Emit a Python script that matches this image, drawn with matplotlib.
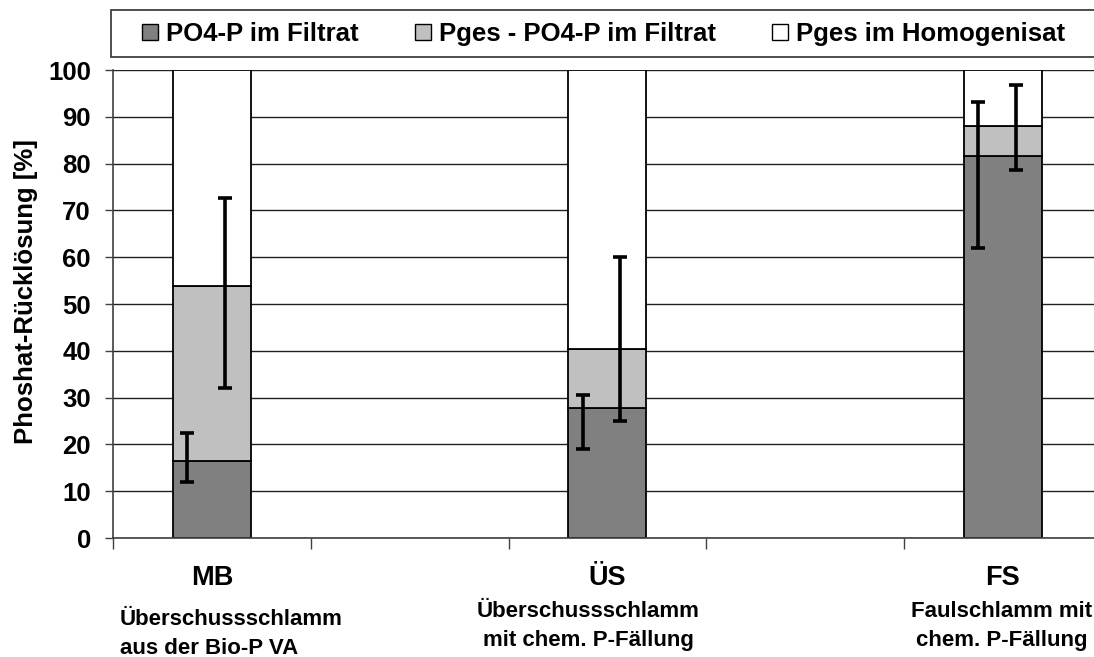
import matplotlib
matplotlib.use("Agg")
import matplotlib.pyplot as plt
from matplotlib.patches import Patch, Rectangle

plt.rcParams['font.family'] = ['Liberation Sans', 'DejaVu Sans']
plt.rcParams['font.weight'] = 'bold'

# Sample groups (bars sit in slots 1, 3 and 5 of five category slots)
groups = ["MB", "ÜS", "FS"]
group_slots = [0, 2, 4]
descriptions = ["Überschussschlamm\naus der Bio-P VA",
                "Überschussschlamm\nmit chem. P-Fällung",
                "Faulschlamm mit\nchem. P-Fällung"]

# Phosphate re-dissolution in %
po4_filtrat = [16.5, 27.8, 81.7]       # PO4-P im Filtrat
pges_filtrat = [53.8, 40.4, 88.0]      # Pges im Filtrat (cumulative)
pges_homogenisat = [100, 100, 100]     # Pges im Homogenisat

# Error ranges (low, high)
po4_err_low = [12.0, 19.0, 62.0]
po4_err_high = [22.4, 30.6, 93.2]
pges_err_low = [32.0, 25.0, 78.6]
pges_err_high = [72.6, 60.0, 96.8]

W, H = 1094, 657
fig = plt.figure(figsize=(W / 100, H / 100), dpi=100)


def px(x, y):
    return x / W, 1 - y / H


ax = fig.add_axes([113 / W, 119 / H, 988.75 / W, 468 / H])

x = [s + 0.5 for s in group_slots]
bw = 0.394
seg2 = [b - a for a, b in zip(po4_filtrat, pges_filtrat)]
seg3 = [c - b for b, c in zip(pges_filtrat, pges_homogenisat)]

ax.bar(x, po4_filtrat, bw, color="#808080", edgecolor="black", linewidth=1.3, zorder=2)
ax.bar(x, seg2, bw, bottom=po4_filtrat, color="#c0c0c0", edgecolor="black", linewidth=1.3, zorder=2)
ax.bar(x, seg3, bw, bottom=pges_filtrat, color="white", edgecolor="black", linewidth=1.3, zorder=2)

x1 = [v - 0.125 for v in x]
x2 = [v + 0.065 for v in x]
yerr1 = [[c - l for c, l in zip(po4_filtrat, po4_err_low)],
         [h - c for c, h in zip(po4_filtrat, po4_err_high)]]
yerr2 = [[c - l for c, l in zip(pges_filtrat, pges_err_low)],
         [h - c for c, h in zip(pges_filtrat, pges_err_high)]]
ax.errorbar(x1, po4_filtrat, yerr=yerr1, fmt="none", ecolor="black",
            elinewidth=2.6, capsize=5.2, capthick=2.6, zorder=3)
ax.errorbar(x2, pges_filtrat, yerr=yerr2, fmt="none", ecolor="black",
            elinewidth=2.6, capsize=5.2, capthick=2.6, zorder=3)

ax.set_xlim(0, 5)
ax.set_ylim(0, 100)
ax.set_yticks(range(0, 101, 10))
ax.set_xticks(range(0, 6))
ax.set_xticklabels([])
ax.tick_params(axis="y", labelsize=18.5, length=6, width=1, color="#404040", pad=10)
ax.tick_params(axis="x", length=8, width=1, color="#404040")
ax.yaxis.grid(True, color="#202020", linewidth=1)
ax.set_axisbelow(True)
for side in ["top", "right"]:
    ax.spines[side].set_visible(False)
for side in ["left", "bottom"]:
    ax.spines[side].set_color("#404040")
    ax.spines[side].set_linewidth(1.2)

ax.set_ylabel("Phoshat-Rücklösung [%]", fontsize=18.5, fontweight="bold")
ax.yaxis.set_label_coords(-0.076, 0.526)

# Category names and descriptions below the axis
for xi, g in zip(x, groups):
    ax.text(xi, -0.085, g, transform=ax.get_xaxis_transform(), ha="center",
            va="center", fontsize=19.5, fontweight="bold")
fig.text(*px(120, 634), descriptions[0], ha="left", va="center", fontsize=16,
         fontweight="bold", linespacing=1.45)
fig.text(*px(588, 626), descriptions[1], ha="center", va="center", fontsize=16,
         fontweight="bold", linespacing=1.45)
fig.text(*px(1002, 626), descriptions[2], ha="center", va="center", fontsize=16,
         fontweight="bold", linespacing=1.45)

# Legend with its own frame running off the right edge
fig.patches.append(Rectangle(px(111, 57), 1000 / W, 47 / H, transform=fig.transFigure,
                             facecolor="white", edgecolor="#404040", linewidth=1.3, zorder=0))
handles = [Patch(facecolor="#808080", edgecolor="black", linewidth=1),
           Patch(facecolor="#c0c0c0", edgecolor="black", linewidth=1),
           Patch(facecolor="white", edgecolor="black", linewidth=1)]
labels = ["PO4-P im Filtrat", "Pges - PO4-P im Filtrat", "Pges im Homogenisat"]
fig.legend(handles, labels, loc="center left", bbox_to_anchor=px(132, 34), ncol=3,
           frameon=False, fontsize=18.5, handlelength=0.62, handleheight=0.6,
           handletextpad=0.3, columnspacing=2.2, borderaxespad=0)

fig.savefig("out.png", dpi=100)
